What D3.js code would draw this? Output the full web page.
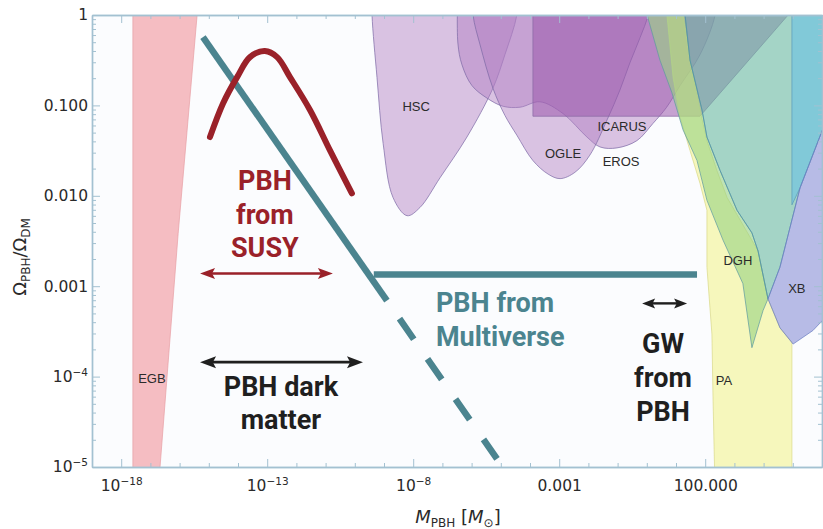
<!DOCTYPE html>
<html>
<head>
<meta charset="utf-8">
<script src="https://cdn.jsdelivr.net/npm/d3@7"></script>
<style>
  html, body { margin: 0; padding: 0; background: #ffffff; }
  svg { display: block; }
</style>
</head>
<body>
<svg id="chart" width="823" height="529"></svg>
<script>
// ---- Axis ranges and ticks -------------------------------------------------
const massDomain = [1e-19, 1e6];      // M_PBH in solar masses
const omegaDomain = [1e-5, 1];        // Omega_PBH / Omega_DM

const xTickValues = [1e-18, 1e-13, 1e-8, 1e-3, 1e2];
const xTickLabels = [["10", "\u221218"], ["10", "\u221213"], ["10", "\u22128"], ["0.001", ""], ["100.000", ""]];
const yTickValues = [1, 0.1, 0.01, 0.001, 1e-4, 1e-5];
const yTickLabels = [["1", ""], ["0.100", ""], ["0.010", ""], ["0.001", ""], ["10", "\u22124"], ["10", "\u22125"]];

// ---- Excluded regions, vertices as [log10 M, log10 Omega] ------------------
const egbRegion = [[-17.6, 0.3], [-15.35, 0.3], [-15.4, 0], [-16.05, -2.42], [-16.67, -5], [-16.7, -5.3], [-17.6, -5.3]];
const hscRegion = [[-9.41, 0.3], [-9.41, 0], [-9.24, -0.69], [-9.03, -1.42], [-8.69, -2.02], [-8.21, -2.22], [-7.77, -2.13],
                   [-7.08, -1.80], [-6.16, -1.35], [-5.27, -0.81], [-4.86, -0.44], [-4.45, 0], [-4.40, 0.3]];
const erosRegion = [[-6.47, 0.3], [-6.47, -0.31], [-6.33, -0.55], [-5.99, -0.78], [-5.47, -0.92], [-4.92, -1.01], [-4.34, -1.02],
                    [-3.66, -0.96], [-2.87, -1.09], [-2.05, -1.35], [-1.60, -1.46], [-1.02, -1.47], [-0.34, -1.39], [0.21, -1.20],
                    [0.68, -1.02], [1.14, -0.78], [1.82, -0.44], [2.34, 0], [2.4, 0.3]];
const ogleRegion = [[-5.95, 0.3], [-5.95, 0], [-5.71, -0.33], [-5.27, -0.81], [-4.86, -1.11], [-4.45, -1.33], [-3.90, -1.61],
                    [-3.38, -1.76], [-2.97, -1.81], [-2.46, -1.74], [-1.95, -1.55], [-1.36, -1.16], [-0.92, -0.83], [-0.58, -0.53],
                    [-0.23, -0.25], [0.04, 0], [0.1, 0.3]];
const icarusRegion = [[-3.90, 0.3], [-3.90, -1.12], [1.82, -1.12], [4.84, 0], [5.1, 0.3]];
const paRegion = [[0.69, 0.3], [0.69, 0], [0.90, -0.69], [1.14, -1.13], [1.48, -1.50], [1.82, -1.86], [2.06, -2.16], [2.06, -2.79],
                  [2.23, -3.53], [2.27, -4.27], [2.34, -5.3], [4.97, -5.3], [4.97, -3.62], [4.56, -3.46], [4.15, -3.14],
                  [3.81, -2.61], [2.75, -2.02], [2.40, -1.72], [2.06, -1.39], [1.82, -1.05], [1.48, -0.5], [1.24, 0], [1.24, 0.3]];
const dghRegion = [[0.01, 0.3], [0.01, 0], [0.45, -0.50], [0.86, -0.86], [1.24, -1.27], [1.72, -1.61], [2.06, -2.05], [2.61, -2.49],
                   [3.29, -2.97], [3.60, -3.68], [3.98, -3.27], [4.15, -3.14], [3.81, -2.61], [3.60, -2.41], [3.09, -2.16],
                   [2.51, -1.72], [2.06, -1.35], [1.89, -1.05], [1.48, -0.50], [1.31, 0], [1.3, 0.3]];
const lensRegion = [[1.31, 0.3], [1.31, 0], [1.48, -0.50], [1.89, -1.05], [2.06, -1.35], [2.51, -1.72], [3.09, -2.16], [3.60, -2.41],
                    [3.81, -2.61], [4.15, -3.14], [4.56, -2.79], [5.25, -1.91], [6.1, -1.2], [6.1, 0.3]];
const cmbRegion = [[4.97, 0.3], [6.1, 0.3], [6.1, -1.2], [5.25, -1.91], [4.97, -2.1]];
const xbRegion = [[4.15, -3.14], [4.56, -2.79], [5.25, -1.91], [6.1, -1.2], [6.1, -3.35], [5.69, -3.49], [5.01, -3.64], [4.56, -3.46]];

// ---- Theory curves, [log10 M, log10 Omega] ---------------------------------
const susyCurve = [[-14.96, -1.35], [-14.51, -0.976], [-14.03, -0.687], [-13.59, -0.466], [-13.08, -0.399], [-12.66, -0.466],
                   [-12.22, -0.687], [-11.53, -1.053], [-10.85, -1.497], [-10.10, -1.973]];
const multiverseSolid = [[-15.2, -0.244], [-8.90, -3.16]];
const multiverseDashed = [[-8.90, -3.16], [-5.13, -4.91]];
const multiversePlateau = [[-9.35, -2.87], [1.72, -2.87]];

// ---- Mass windows (log10 M) ------------------------------------------------
const susyWindow = [-15.30, -10.75];
const darkMatterWindow = [-15.30, -9.72];
const gwWindow = [-0.16, 1.38];

// ---- Region labels: name, log10 M, log10 Omega ------------------------------
const regionLabels = [["EGB", -16.95, -4.02], ["HSC", -7.90, -1.01], ["OGLE", -2.87, -1.53], ["ICARUS", -0.85, -1.23],
                      ["EROS", -0.88, -1.62], ["DGH", 3.12, -2.72], ["XB", 5.14, -3.02], ["PA", 2.64, -4.04]];

// ---------------------------------------------------------------------------
const svg = d3.select("#chart");
const plot = { left: 92, right: 822, top: 15, bottom: 467 };

const x = d3.scaleLog().domain(massDomain).range([plot.left, plot.right]);
const y = d3.scaleLog().domain(omegaDomain).range([plot.bottom, plot.top]);
const px = d => x(Math.pow(10, d[0]));
const py = d => y(Math.pow(10, d[1]));

const teal = "#4b848f", wine = "#9a2129", ink = "#1f1f1f";
const axisColor = "#a3c1d1";

svg.append("rect").attr("width", 823).attr("height", 529).attr("fill", "#ffffff");
svg.append("rect")
  .attr("x", plot.left).attr("y", plot.top)
  .attr("width", plot.right - plot.left).attr("height", plot.bottom - plot.top)
  .attr("fill", "#fbfcfe");

svg.append("clipPath").attr("id", "plotClip")
  .append("rect")
  .attr("x", plot.left).attr("y", plot.top)
  .attr("width", plot.right - plot.left).attr("height", plot.bottom - plot.top);

// ---- Shaded constraint regions ---------------------------------------------
const smooth = d3.line().x(px).y(py).curve(d3.curveCatmullRom.alpha(0.5));
const straight = d3.line().x(px).y(py).curve(d3.curveLinearClosed);

const regions = [
  { pts: egbRegion,    gen: straight, fill: "#f08890", op: 0.55, stroke: "#e8a0a6" },
  { pts: hscRegion,    gen: smooth,   fill: "#b07cc0", op: 0.45, stroke: "#7d6aa6" },
  { pts: erosRegion,   gen: smooth,   fill: "#b07cc0", op: 0.45, stroke: "#7d6aa6" },
  { pts: ogleRegion,   gen: smooth,   fill: "#b07cc0", op: 0.45, stroke: "#7d6aa6" },
  { pts: icarusRegion, gen: straight, fill: "#9a58ac", op: 0.55, stroke: "#8a6aa6" },
  { pts: paRegion,     gen: straight, fill: "#f2f27a", op: 0.5,  stroke: "#d9d98a" },
  { pts: dghRegion,    gen: straight, fill: "#98d282", op: 0.6,  stroke: "#5f9aa0" },
  { pts: lensRegion,   gen: straight, fill: "#6ab9a0", op: 0.6,  stroke: "#4f8fa8" },
  { pts: cmbRegion,    gen: straight, fill: "#78c6dc", op: 0.8,  stroke: "#5a9ab8" },
  { pts: xbRegion,     gen: straight, fill: "#8a90d6", op: 0.6,  stroke: "#6a7ec0" }
];

const regionLayer = svg.append("g").attr("clip-path", "url(#plotClip)");
regions.forEach(r => {
  let d = r.gen(r.pts);
  if (r.gen === smooth) d += "Z";
  regionLayer.append("path")
    .attr("d", d)
    .attr("fill", r.fill)
    .attr("fill-opacity", r.op)
    .attr("stroke", r.stroke)
    .attr("stroke-width", 0.9)
    .attr("stroke-opacity", 0.8);
});

regionLayer.selectAll("text.region")
  .data(regionLabels)
  .join("text")
  .attr("class", "region")
  .attr("x", d => px([d[1], 0]))
  .attr("y", d => py([0, d[2]]))
  .attr("dy", "0.35em")
  .attr("text-anchor", "middle")
  .attr("font-family", "Liberation Sans, Arial, sans-serif")
  .attr("font-size", 13)
  .attr("fill", "#2b2b2b")
  .text(d => d[0]);

// ---- Axes (frame with inward ticks) ---------------------------------------
const decades = d3.range(-19, 7).map(e => Math.pow(10, e));
const xMinor = decades.filter(v => !xTickValues.some(t => Math.abs(Math.log10(t) - Math.log10(v)) < 1e-6));
const yMinor = [];
for (let e = -5; e < 0; e++) for (let k = 2; k <= 9; k++) yMinor.push(k * Math.pow(10, e));

function styleAxis(g) {
  g.select(".domain").attr("stroke", axisColor).attr("stroke-width", 1.4);
  g.selectAll(".tick line").attr("stroke", axisColor).attr("stroke-width", 1);
}

const labelFont = "DejaVu Sans, Verdana, sans-serif";

function writeTickLabel(sel, labels, values) {
  sel.each(function(v) {
    const idx = values.findIndex(t => Math.abs(Math.log10(t) - Math.log10(v)) < 1e-6);
    const [base, sup] = labels[idx];
    const t = d3.select(this);
    t.text(null);
    t.append("tspan").text(base);
    if (sup) t.append("tspan").attr("font-size", 10.5).attr("dy", -6).text(sup);
  });
}

// bottom
const gBottom = svg.append("g").attr("transform", `translate(0,${plot.bottom})`)
  .call(d3.axisBottom(x).tickValues(xTickValues).tickSize(-8).tickSizeOuter(0).tickPadding(13));
styleAxis(gBottom);
gBottom.selectAll(".tick text")
  .attr("font-family", labelFont).attr("font-size", 15.5).attr("fill", "#2a2a2a")
  .attr("dy", "0.71em")
  .call(writeTickLabel, xTickLabels, xTickValues);
svg.append("g").attr("transform", `translate(0,${plot.bottom})`)
  .call(d3.axisBottom(x).tickValues(xMinor).tickSize(-4).tickSizeOuter(0).tickFormat(""))
  .call(styleAxis);

// top
svg.append("g").attr("transform", `translate(0,${plot.top})`)
  .call(d3.axisTop(x).tickValues(xTickValues).tickSize(-8).tickSizeOuter(0).tickFormat(""))
  .call(styleAxis);
svg.append("g").attr("transform", `translate(0,${plot.top})`)
  .call(d3.axisTop(x).tickValues(xMinor).tickSize(-4).tickSizeOuter(0).tickFormat(""))
  .call(styleAxis);

// left
const gLeft = svg.append("g").attr("transform", `translate(${plot.left},0)`)
  .call(d3.axisLeft(y).tickValues(yTickValues).tickSize(-8).tickSizeOuter(0).tickPadding(4));
styleAxis(gLeft);
gLeft.selectAll(".tick text")
  .attr("font-family", labelFont).attr("font-size", 15.5).attr("fill", "#2a2a2a")
  .call(writeTickLabel, yTickLabels, yTickValues);
svg.append("g").attr("transform", `translate(${plot.left},0)`)
  .call(d3.axisLeft(y).tickValues(yMinor).tickSize(-4).tickSizeOuter(0).tickFormat(""))
  .call(styleAxis);

// right
svg.append("g").attr("transform", `translate(${plot.right},0)`)
  .call(d3.axisRight(y).tickValues(yTickValues).tickSize(-8).tickSizeOuter(0).tickFormat(""))
  .call(styleAxis);
svg.append("g").attr("transform", `translate(${plot.right},0)`)
  .call(d3.axisRight(y).tickValues(yMinor).tickSize(-4).tickSizeOuter(0).tickFormat(""))
  .call(styleAxis);

// axis titles
const yTitle = svg.append("text")
  .attr("transform", `translate(26,257) rotate(-90)`)
  .attr("text-anchor", "middle")
  .attr("font-family", labelFont).attr("font-size", 18).attr("fill", "#2a2a2a");
yTitle.append("tspan").text("\u03A9");
yTitle.append("tspan").attr("font-size", 12).attr("dy", 4).text("PBH");
yTitle.append("tspan").attr("dy", -4).text("/\u03A9");
yTitle.append("tspan").attr("font-size", 12).attr("dy", 4).text("DM");

const xTitle = svg.append("text")
  .attr("x", 458).attr("y", 523)
  .attr("text-anchor", "middle")
  .attr("font-family", labelFont).attr("font-size", 18).attr("fill", "#2a2a2a");
xTitle.append("tspan").attr("font-style", "italic").text("M");
xTitle.append("tspan").attr("font-size", 12).attr("dy", 4).text("PBH");
xTitle.append("tspan").attr("dy", -4).text(" [");
xTitle.append("tspan").attr("font-style", "italic").text("M");
xTitle.append("tspan").attr("font-size", 12).attr("dy", 4).text("\u2299");
xTitle.append("tspan").attr("dy", -4).text("]");

// ---- Theory curves ---------------------------------------------------------
const lineGen = d3.line().x(px).y(py);
const curveLayer = svg.append("g").attr("clip-path", "url(#plotClip)");

curveLayer.append("path").attr("d", lineGen(multiverseSolid))
  .attr("fill", "none").attr("stroke", teal).attr("stroke-width", 6.5);
curveLayer.append("path").attr("d", lineGen(multiverseDashed))
  .attr("fill", "none").attr("stroke", teal).attr("stroke-width", 6.5)
  .attr("stroke-dasharray", "25 24").attr("stroke-dashoffset", 27);
curveLayer.append("path").attr("d", lineGen(multiversePlateau))
  .attr("fill", "none").attr("stroke", teal).attr("stroke-width", 6.5);

curveLayer.append("path")
  .attr("d", d3.line().x(px).y(py).curve(d3.curveCatmullRom.alpha(0.5))(susyCurve))
  .attr("fill", "none").attr("stroke", wine).attr("stroke-width", 6)
  .attr("stroke-linecap", "round").attr("stroke-linejoin", "round");

// ---- Mass-window arrows ----------------------------------------------------
function doubleArrow(range, logOmega, color, width, headLen, headHalf) {
  const x1 = px([range[0], 0]), x2 = px([range[1], 0]), yy = py([0, logOmega]);
  const g = svg.append("g");
  g.append("line").attr("x1", x1 + headLen * 0.6).attr("x2", x2 - headLen * 0.6)
    .attr("y1", yy).attr("y2", yy).attr("stroke", color).attr("stroke-width", width);
  g.append("path")
    .attr("d", `M${x1},${yy} L${x1 + headLen},${yy - headHalf} L${x1 + headLen * 0.8},${yy} L${x1 + headLen},${yy + headHalf} Z`)
    .attr("fill", color);
  g.append("path")
    .attr("d", `M${x2},${yy} L${x2 - headLen},${yy - headHalf} L${x2 - headLen * 0.8},${yy} L${x2 - headLen},${yy + headHalf} Z`)
    .attr("fill", color);
}
doubleArrow(susyWindow, -2.86, wine, 2.6, 15, 5.5);
doubleArrow(darkMatterWindow, -3.84, ink, 2.6, 16, 6);
doubleArrow(gwWindow, -3.19, ink, 2.4, 13, 5);

// ---- Annotation text -------------------------------------------------------
function textBlock(lines, xPx, yPx, anchor, color, lineH) {
  const t = svg.append("text")
    .attr("font-family", "Roboto, sans-serif").attr("font-weight", 700)
    .attr("font-size", 27).attr("fill", color).attr("text-anchor", anchor);
  lines.forEach((s, i) => t.append("tspan").attr("x", xPx).attr("y", yPx + i * lineH).text(s));
}
textBlock(["PBH", "from", "SUSY"], px([-13.08, 0]), py([0, -1.94]), "middle", wine, 33.5);
textBlock(["PBH dark", "matter"], px([-12.53, 0]), py([0, -4.21]), "middle", ink, 33);
textBlock(["PBH from", "Multiverse"], px([-7.22, 0]), py([0, -3.29]), "start", teal, 34);
textBlock(["GW", "from", "PBH"], px([0.555, 0]), py([0, -3.74]), "middle", ink, 34);
</script>
</body>
</html>
